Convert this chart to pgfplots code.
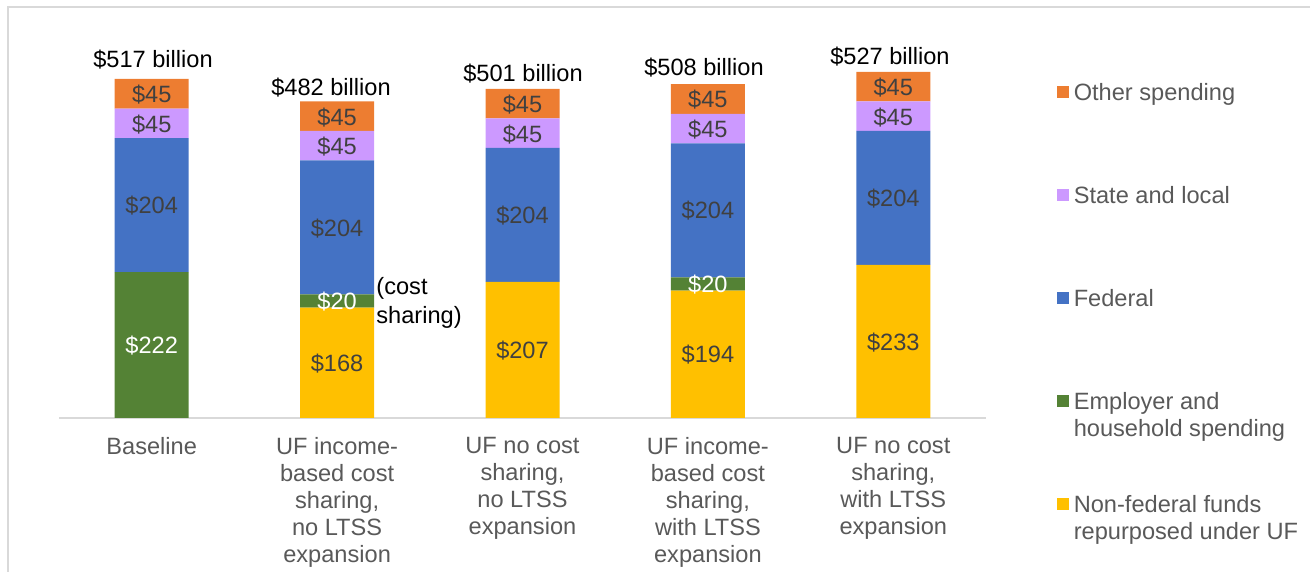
\documentclass[border=0pt]{standalone}
\usepackage{pgfplots}
\pgfplotsset{compat=1.18}
\usepackage{pgfplotstable}
\usepackage{fontspec}
\setmainfont{Liberation Sans}
\definecolor{cOther}{HTML}{ED7D31}
\definecolor{cState}{HTML}{CC99FF}
\definecolor{cFed}{HTML}{4472C4}
\definecolor{cEmp}{HTML}{548235}
\definecolor{cNon}{HTML}{FFC000}
\definecolor{labc}{HTML}{404040}
\definecolor{tickc}{HTML}{595959}
\definecolor{linec}{HTML}{D9D9D9}
\newcommand\cfont{\fontsize{11.8pt}{13.5pt}\selectfont}
\newcommand\dol{\char36\relax}
\newcommand\legone[1]{\strut #1}
\newcommand\legtwo[2]{\vtop{\hbox{\strut #1}\hbox{\strut #2}}}

% stacked segment values (bottom to top)
\pgfplotstableread{
x y
0 0
1 168
2 207
3 194
4 233
}\nonfed
\pgfplotstableread{
x y
0 222
1 20
2 0
3 20
4 0
}\emp
\pgfplotstableread{
x y
0 204
1 204
2 204
3 204
4 204
}\fed
\pgfplotstableread{
x y
0 45
1 45
2 45
3 45
4 45
}\statelocal
\pgfplotstableread{
x y
0 45
1 45
2 45
3 45
4 45
}\other
% label positions (segment middles) and values
\pgfplotstableread{
x y v
1 83 168
2 102.5 207
3 96 194
4 115.5 233
0 323 204
1 289 204
2 308 204
3 315 204
4 334 204
0 447 45
1 413 45
2 432 45
3 439 45
4 458 45
0 492 45
1 458 45
2 477 45
3 484 45
4 503 45
}\labdark
\pgfplotstableread{
x y v
0 110 222
1 177 20
3 203 20
}\labwhite
\pgfplotstableread{
x y tot
0.007 545 517
0.967 502.3 482
2.003 523.6 501
2.979 532.7 508
3.982 549.5 527
}\totals

\pgfplotsset{
  seg/.style={draw=none, fill=#1},
  frame/.style={at={(29.5pt,77pt)}, anchor=south west,
    scale only axis, width=463.5pt, height=197.1pt,
    xmin=-0.5, xmax=4.5, ymin=0, ymax=600},
}

\begin{document}
\begin{tikzpicture}[font=\cfont]
\useasboundingbox (0,0) rectangle (655pt,286pt);
\draw[linec, line width=0.6pt] (4pt,-2pt) -- (4pt,282.5pt) -- (660pt,282.5pt);
\begin{axis}[
  frame,
  ybar stacked, bar width=37pt,
  hide y axis,
  axis x line*=bottom,
  x axis line style={linec, line width=0.6pt},
  xtick={0,1,2,3,4},
  xticklabels={Baseline,
    {UF income-\\based cost\\sharing,\\no LTSS\\expansion},
    {UF no cost\\sharing,\\no LTSS\\expansion},
    {UF income-\\based cost\\sharing,\\with LTSS\\expansion},
    {UF no cost\\sharing,\\with LTSS\\expansion}},
  xticklabel style={align=center, text=tickc, yshift=-6pt},
  major tick length=0pt,
  legend image code/.code={\fill[#1] (0pt,1.2pt) rectangle (6pt,7.2pt);},
  legend style={draw=none, fill=none, at={(1.0766,0.8537)}, anchor=north west,
    text=tickc, row sep=0pt, inner sep=0pt,
    cells={anchor=base west},
    nodes={inner sep=0pt, text height=9.45pt, text depth=42.05pt},
    /tikz/every odd column/.append style={column sep=2.2pt}},
  reverse legend,
]
\addplot[seg=cNon] table[x=x,y=y]{\nonfed};
\addlegendentry{\legtwo{Non-federal funds}{repurposed under UF}}
\addplot[seg=cEmp] table[x=x,y=y]{\emp};
\addlegendentry{\legtwo{Employer and}{household spending}}
\addplot[seg=cFed] table[x=x,y=y]{\fed};
\addlegendentry{\legone{Federal}}
\addplot[seg=cState] table[x=x,y=y]{\statelocal};
\addlegendentry{\legone{State and local}}
\addplot[seg=cOther] table[x=x,y=y]{\other};
\addlegendentry{\legone{Other spending}}
\end{axis}
\begin{axis}[frame, hide axis]
\addplot[only marks, mark=none, point meta=explicit symbolic,
  nodes near coords={\dol\pgfplotspointmeta},
  nodes near coords style={anchor=center, text=labc}]
  table[x=x,y=y,meta=v]{\labdark};
\addplot[only marks, mark=none, point meta=explicit symbolic,
  nodes near coords={\dol\pgfplotspointmeta},
  nodes near coords style={anchor=center, text=white}]
  table[x=x,y=y,meta=v]{\labwhite};
\addplot[only marks, mark=none, point meta=explicit symbolic,
  nodes near coords={\dol\pgfplotspointmeta\ billion},
  nodes near coords style={anchor=center, text=black}]
  table[x=x,y=y,meta=tot]{\totals};
\node[anchor=west, align=left, text=black, inner sep=0pt] at (axis cs:1.21,175) {(cost\\[1pt]sharing)};
\end{axis}
\end{tikzpicture}
\end{document}
